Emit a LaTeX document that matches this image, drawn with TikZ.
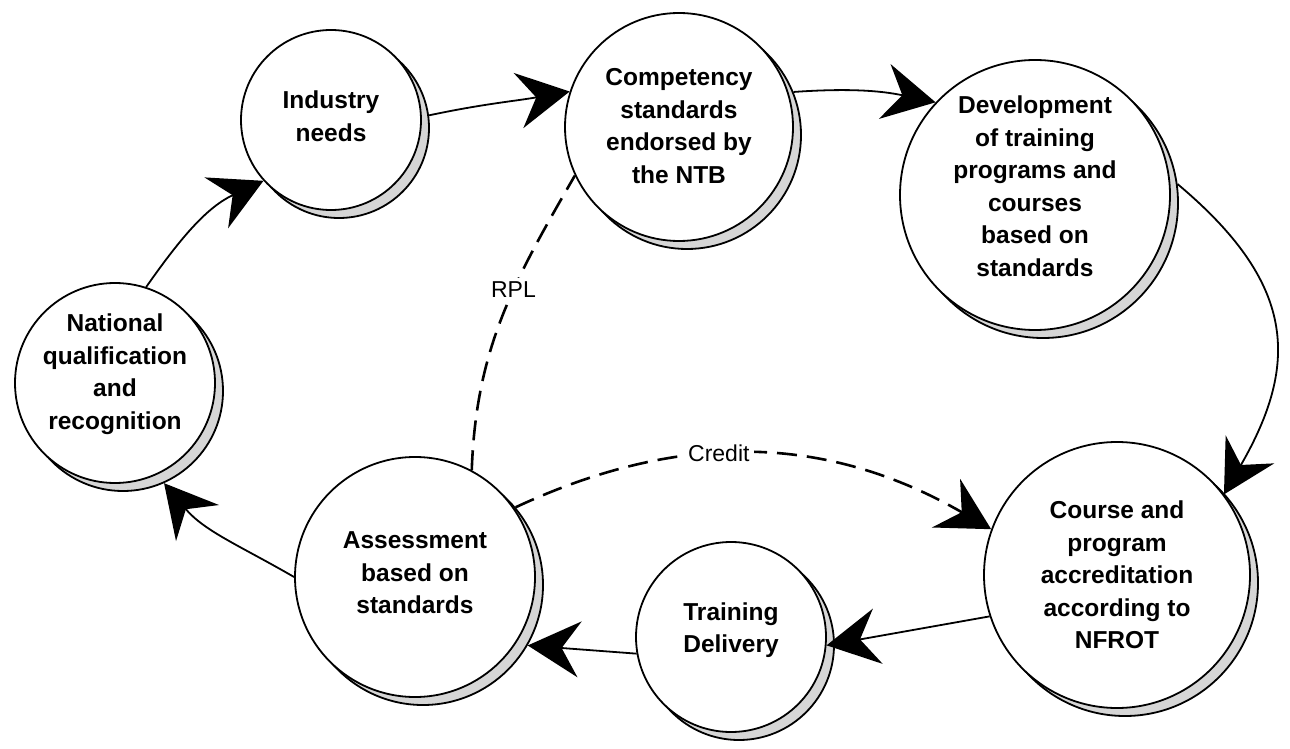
\documentclass[tikz,border=0pt]{standalone}
\usepackage{fontspec}
\setmainfont{Liberation Sans}
\usetikzlibrary{arrows.meta}
\newcommand\mybubble[6]{%
  \node[shad, minimum size=#4*2pt] (#1s) at (#2+8,#3-8) {};
  \node[circ, minimum size=#4*2pt] (#1) at (#2,#3) {};
  \node[txt] (#1t) at ([yshift=#6pt]#1.center) {#5};
}
\begin{document}
\begin{tikzpicture}[x=1pt,y=1pt,
  circ/.style={circle, draw, line width=1.8pt, fill=white, inner sep=0pt},
  txt/.style={inner sep=0pt, align=center, font=\fontsize{24.5}{32.5}\selectfont\bfseries},
  shad/.style={circle, draw, line width=1.8pt, fill=gray!32, inner sep=0pt},
  tipb/.tip={Stealth[length=52pt,width=56pt,inset=18pt]},
  conn/.style={line width=1.8pt, -tipb},
  dsh/.style={line width=2.6pt, dash pattern=on 20pt off 10pt},
  lbl/.style={fill=white, inner sep=4pt, font=\fontsize{23}{26}\selectfont}]
\useasboundingbox (0,0) rectangle (1290,748);

\mybubble{ind}{331}{628}{90}{Industry\\needs}{4}
\mybubble{comp}{679}{621}{114}{Competency\\standards\\endorsed by\\the NTB}{1}
\mybubble{dev}{1035}{553}{135}{Development\\of training\\programs and\\courses\\based on\\standards}{9}
\mybubble{course}{1117}{173}{133}{Course and\\program\\accreditation\\according to\\NFROT}{0}
\mybubble{train}{731}{111}{95}{Training\\Delivery}{7}
\mybubble{assess}{415}{171}{120}{Assessment\\based on\\standards}{4}
\mybubble{nat}{115}{365}{100}{National\\qualification\\and\\recognition}{9}

\draw[conn] (nat.72) to[out=55,in=205] (ind.222);
\draw[conn] (inds.8) to[out=12,in=190] (comp.162);
\draw[conn] (comps.22) to[out=4,in=168] (dev.137);
\draw[conn] (devs.8) to[out=-40,in=60,looseness=1.25] (course.37);
\draw[conn] (course.198) -- (train.-5);
\draw[conn] (train.190) -- (assesss.-30);
\draw[conn] (assess.180) to[out=150,in=-50] (nats.-66);

\draw[dsh] (assess.62) to[out=88,in=-120] node[lbl,pos=0.6]{RPL} (comp.205);
\draw[dsh,-tipb] (assesss.40) to[out=25,in=150] node[lbl,pos=0.42]{Credit} (course.160);
\end{tikzpicture}
\end{document}
